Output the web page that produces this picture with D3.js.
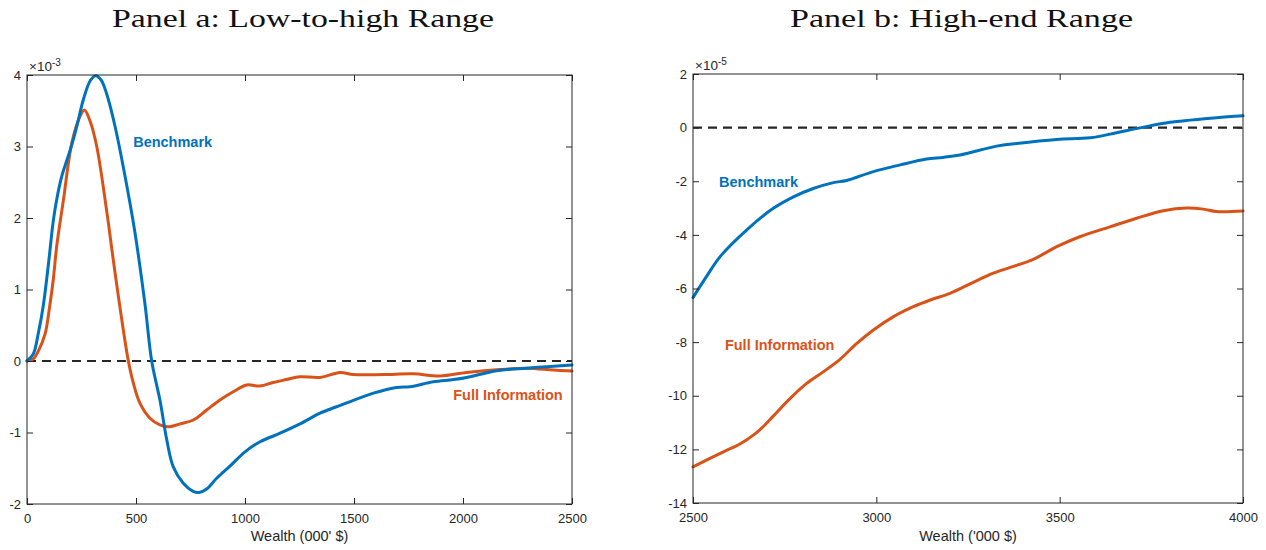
<!DOCTYPE html>
<html>
<head>
<meta charset="utf-8">
<script src="https://cdn.jsdelivr.net/npm/d3@7"></script>
<style>
  html, body { margin: 0; padding: 0; background: #fff; }
  svg { display: block; }
  .tick text { font-family: "Liberation Sans", Arial, sans-serif; font-size: 13px; fill: #262626; }
  .tick line { stroke: #262626; stroke-width: 1; }
</style>
</head>
<body>
<svg id="chart" width="1266" height="550"></svg>
<script>
// ---- Panel a: low-to-high range (values in units of 1e-3) ----
const benchA_w = [0, 29, 52, 75, 100, 121, 140, 159, 182, 205, 230, 258, 290, 315, 340, 365, 404, 450, 495, 541, 572,
  610, 641, 671, 717, 760, 789, 824, 870, 931, 1000, 1069, 1161, 1252, 1344, 1420, 1497, 1589, 1696, 1757,
  1864, 1956, 2017, 2155, 2292, 2384, 2500];
const benchA_v = [0, 0.1, 0.39, 0.78, 1.4, 1.97, 2.32, 2.58, 2.8, 3.02, 3.3, 3.65, 3.92, 3.99, 3.93, 3.74, 3.28, 2.58, 1.8, 0.8, 0,
  -0.55, -1.1, -1.48, -1.71, -1.82, -1.84, -1.79, -1.64, -1.47, -1.27, -1.13, -1.01, -0.88, -0.73, -0.64, -0.55, -0.45, -0.37, -0.36,
  -0.29, -0.26, -0.23, -0.135, -0.10, -0.08, -0.055];

const fullA_w = [0, 29, 52, 83, 102, 121, 136, 167, 205, 240, 263, 290, 320, 365, 396, 427, 465, 488, 518, 564,
  610, 648, 702, 763, 824, 885, 946, 1008, 1069, 1130, 1190, 1252, 1344, 1436, 1497, 1635, 1773, 1895,
  2017, 2170, 2292, 2415, 2500];
const fullA_v = [0, 0.03, 0.14, 0.38, 0.72, 1.15, 1.6, 2.25, 3.04, 3.4, 3.51, 3.35, 3.0, 2.11, 1.41, 0.74, 0, -0.31, -0.59, -0.80,
  -0.895, -0.92, -0.88, -0.825, -0.685, -0.545, -0.43, -0.335, -0.35, -0.30, -0.26, -0.22, -0.23, -0.16, -0.19, -0.19, -0.18, -0.21,
  -0.16, -0.12, -0.10, -0.126, -0.14];

// ---- Panel b: high-end range (values in units of 1e-5) ----
const benchB_w = [2500, 2537, 2574, 2646, 2719, 2774, 2828, 2883, 2919, 2992, 3065, 3137, 3182, 3228, 3328, 3383,
  3492, 3583, 3655, 3719, 3801, 3856, 3928, 4000];
const benchB_v = [-6.34, -5.55, -4.81, -3.82, -3.01, -2.58, -2.27, -2.05, -1.97, -1.64, -1.39, -1.17, -1.11, -1.02, -0.69, -0.59,
  -0.44, -0.38, -0.19, -0.01, 0.20, 0.28, 0.37, 0.44];

const fullB_w = [2500, 2583, 2628, 2669, 2694, 2719, 2765, 2810, 2856, 2901, 2946, 2992, 3047, 3101, 3147, 3201, 3260,
  3319, 3428, 3492, 3555, 3637, 3710, 3783, 3846, 3892, 3928, 4000];
const fullB_v = [-12.65, -12.09, -11.80, -11.42, -11.12, -10.76, -10.10, -9.54, -9.10, -8.64, -8.06, -7.55, -7.05, -6.68, -6.43, -6.18, -5.8,
  -5.43, -4.91, -4.44, -4.07, -3.70, -3.38, -3.10, -3.0, -3.04, -3.13, -3.11];

// ---- Tick values ----
const xTicksA = [0, 500, 1000, 1500, 2000, 2500];
const yTicksA = [-2, -1, 0, 1, 2, 3, 4];
const xTicksB = [2500, 3000, 3500, 4000];
const yTicksB = [-14, -12, -10, -8, -6, -4, -2, 0, 2];

const titles = ["Panel a: Low-to-high Range", "Panel b: High-end Range"];
const xLabels = ["Wealth (000' $)", "Wealth ('000 $)"];
const exponents = ["-3", "-5"];
const seriesNames = ["Benchmark", "Full Information"];

const BLUE = "#0072BD", ORANGE = "#D95319", AX = "#262626";
const svg = d3.select("#chart");

function zip(w, v) { return w.map((d, i) => [d, v[i]]); }

function drawPanel(cfg) {
  const { left, right, top, bottom, xDom, yDom, xTicks, yTicks, series, title, titleX, titleW,
          xLabel, exponent, labels } = cfg;
  const x = d3.scaleLinear().domain(xDom).range([left, right]);
  const y = d3.scaleLinear().domain(yDom).range([bottom, top]);
  const g = svg.append("g");
  const tick = 6;

  // zero reference line
  g.append("line")
    .attr("x1", x(xDom[0])).attr("x2", x(xDom[1]))
    .attr("y1", y(0)).attr("y2", y(0))
    .attr("stroke", AX).attr("stroke-width", 2.2)
    .attr("stroke-dasharray", "9,6");

  // curves
  const line = d3.line().x(d => x(d[0])).y(d => y(d[1])).curve(d3.curveCatmullRom.alpha(0.5));
  series.forEach(s => {
    g.append("path").datum(zip(s.w, s.v))
      .attr("d", line).attr("fill", "none")
      .attr("stroke", s.color).attr("stroke-width", 3)
      .attr("stroke-linejoin", "round").attr("stroke-linecap", "round");
  });

  // axes: labelled bottom/left, tick-only top/right, ticks pointing inward
  const bx = g.append("g").attr("transform", `translate(0,${bottom})`)
    .call(d3.axisBottom(x).tickValues(xTicks).tickFormat(d3.format("d")).tickSizeInner(-tick).tickSizeOuter(0).tickPadding(10));
  const ly = g.append("g").attr("transform", `translate(${left},0)`)
    .call(d3.axisLeft(y).tickValues(yTicks).tickFormat(d => d < 0 ? "-" + Math.abs(d) : d).tickSizeInner(-tick).tickSizeOuter(0).tickPadding(6));
  const tx = g.append("g").attr("transform", `translate(0,${top})`)
    .call(d3.axisTop(x).tickValues(xTicks).tickFormat("").tickSizeInner(-tick).tickSizeOuter(0));
  const ry = g.append("g").attr("transform", `translate(${right},0)`)
    .call(d3.axisRight(y).tickValues(yTicks).tickFormat("").tickSizeInner(-tick).tickSizeOuter(0));
  [bx, ly, tx, ry].forEach(a => a.select(".domain").remove());

  // axes box
  g.append("rect").attr("x", left).attr("y", top)
    .attr("width", right - left).attr("height", bottom - top)
    .attr("fill", "none").attr("stroke", AX).attr("stroke-width", 1);

  // exponent label
  const ex = g.append("text").attr("x", left + 2).attr("y", top - 4)
    .attr("font-family", "Liberation Sans, Arial, sans-serif").attr("font-size", 13.5).attr("fill", AX);
  ex.append("tspan").text("\u00d710");
  ex.append("tspan").attr("font-size", 10).attr("dy", -5).text(exponent);

  // title
  svg.append("text").attr("x", titleX).attr("y", 27)
    .attr("text-anchor", "middle")
    .attr("font-family", "Liberation Serif, Times New Roman, serif").attr("font-size", 26)
    .attr("fill", "#111")
    .attr("textLength", titleW).attr("lengthAdjust", "spacingAndGlyphs")
    .text(title);

  // x label
  g.append("text").attr("x", (left + right) / 2).attr("y", 541)
    .attr("text-anchor", "middle")
    .attr("font-family", "Liberation Sans, Arial, sans-serif").attr("font-size", 14.5)
    .attr("fill", AX).text(xLabel);

  // in-plot series labels
  labels.forEach(l => {
    g.append("text").attr("x", x(l.w)).attr("y", y(l.v))
      .attr("font-family", "Liberation Sans, Arial, sans-serif").attr("font-size", 14.5)
      .attr("font-weight", "bold").attr("fill", l.color).text(l.text);
  });
}

drawPanel({
  left: 27, right: 572, top: 75, bottom: 504,
  xDom: [0, 2500], yDom: [-2, 4], xTicks: xTicksA, yTicks: yTicksA,
  series: [
    { w: fullA_w, v: fullA_v, color: ORANGE },
    { w: benchA_w, v: benchA_v, color: BLUE }
  ],
  title: titles[0], titleX: 303, titleW: 382,
  xLabel: xLabels[0], exponent: exponents[0],
  labels: [
    { text: seriesNames[0], w: 487, v: 3.0, color: BLUE },
    { text: seriesNames[1], w: 1955, v: -0.55, color: ORANGE }
  ]
});

drawPanel({
  left: 693, right: 1243, top: 74, bottom: 503,
  xDom: [2500, 4000], yDom: [-14, 2], xTicks: xTicksB, yTicks: yTicksB,
  series: [
    { w: fullB_w, v: fullB_v, color: ORANGE },
    { w: benchB_w, v: benchB_v, color: BLUE }
  ],
  title: titles[1], titleX: 961.5, titleW: 343,
  xLabel: xLabels[1], exponent: exponents[1],
  labels: [
    { text: seriesNames[0], w: 2571, v: -2.2, color: BLUE },
    { text: seriesNames[1], w: 2587, v: -8.3, color: ORANGE }
  ]
});
</script>
</body>
</html>
